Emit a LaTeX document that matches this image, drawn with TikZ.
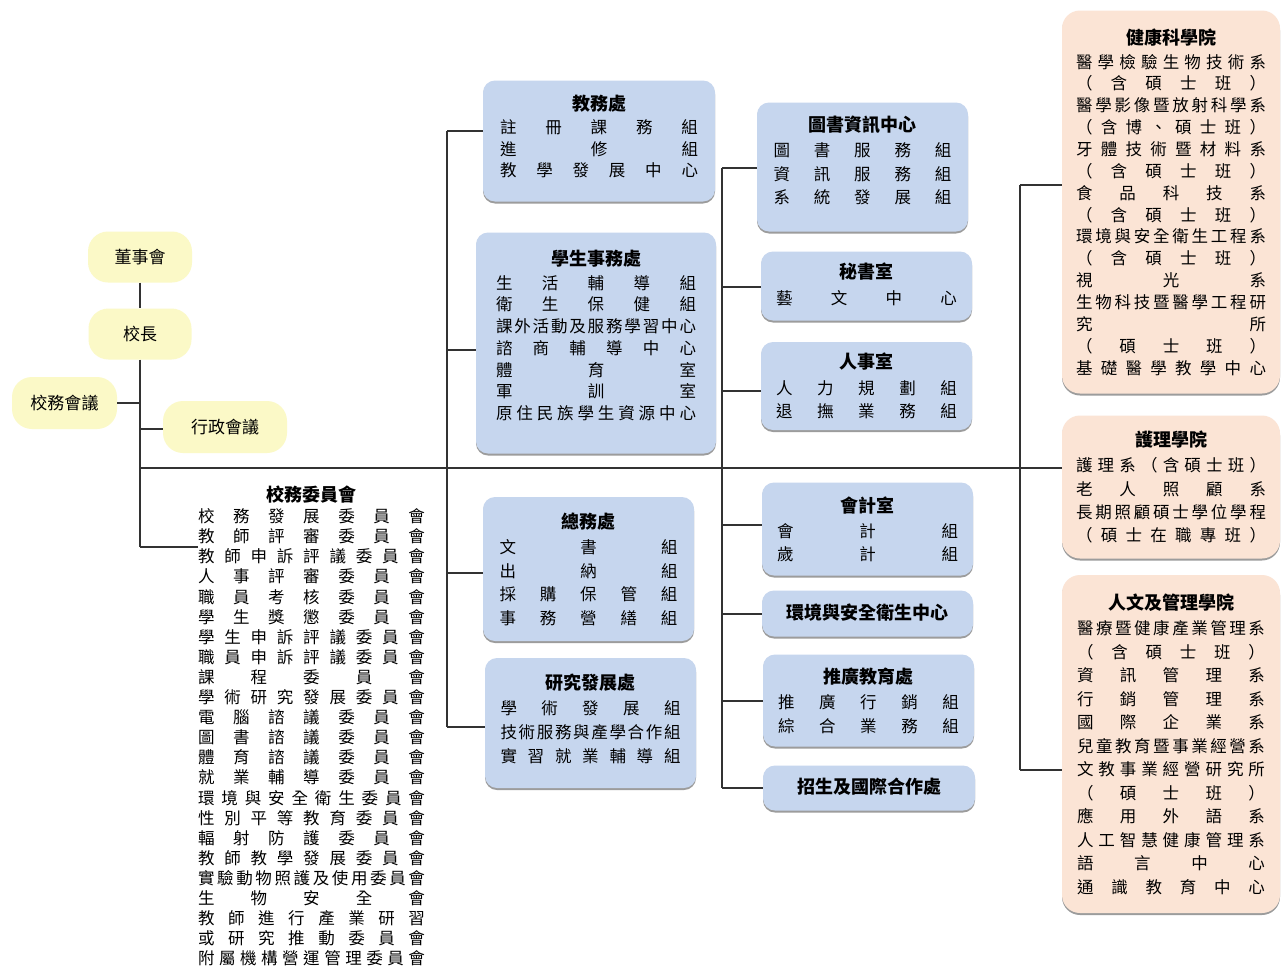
\documentclass[tikz,border=0pt]{standalone}
\usepackage{fontspec}
\setmainfont{Noto Sans CJK TC}
\usetikzlibrary{shadows}
\definecolor{boxblue}{RGB}{198,214,238}
\definecolor{boxpeach}{RGB}{251,228,213}
\definecolor{boxyellow}{RGB}{251,249,199}
\definecolor{linec}{RGB}{50,50,50}
\def\spA#1{#1\spB}
\def\spB#1{\ifx#1\relax\else\hfill#1\expandafter\spB\fi}
\newcommand\dl[1]{\hbox to\hsize{\spA#1\relax}}
\newcommand\ttl[1]{\hbox to\hsize{\hfil{\bfseries\fontsize{18}{18}\selectfont#1}\hfil}\vskip2pt}
\newcommand\bx[4]{\vbox{\hsize=#1pt\baselineskip=#2pt\lineskiplimit=-100pt\lineskip=0pt #4\vskip#3pt}}
\tikzset{
  conn/.style={draw=linec, line width=1.2pt},
  ybox/.style={fill=boxyellow, rounded corners=20pt, inner sep=0pt, font=\fontsize{17}{17}\selectfont},
  bbox/.style={fill=boxblue, rounded corners=12pt, inner sep=0pt, font=\fontsize{16.5}{20}\selectfont,
    drop shadow={shadow xshift=0pt, shadow yshift=-2pt, fill=black!55, opacity=0.7}},
  pbox/.style={fill=boxpeach, rounded corners=18pt, inner sep=0pt, font=\fontsize{16.5}{20}\selectfont,
    drop shadow={shadow xshift=0pt, shadow yshift=-2pt, fill=black!55, opacity=0.7}},
  tbox/.style={inner sep=0pt, font=\fontsize{16.5}{20}\selectfont}
}
\begin{document}
\begin{tikzpicture}[x=1pt,y=-1pt]
\fill[white] (0,0) rectangle (1282,969);
\useasboundingbox (0,0) rectangle (1282,969);

% yellow boxes
\node[ybox, minimum width=104pt, minimum height=51pt] (ds) at (140,257) {董事會};
\node[ybox, minimum width=103pt, minimum height=51pt] (xz) at (140,334) {校長};
\node[ybox, minimum width=105pt, minimum height=52pt] (xwh) at (64.5,403) {校務會議};
\node[ybox, minimum width=124pt, minimum height=52pt] (xzh) at (225,427) {行政會議};

% blue boxes
\node[bbox, minimum width=232pt, minimum height=121pt] (jw) at (599,141) {\bx{198}{21.5}{9}{\ttl{教務處}\dl{註冊課務組}\dl{進修組}\dl{教學發展中心}}};
\node[bbox, minimum width=240pt, minimum height=221pt] (xs) at (596,343) {\bx{200}{21.7}{15}{\ttl{學生事務處}\dl{生活輔導組}\dl{衛生保健組}\dl{課外活動及服務學習中心}\dl{諮商輔導中心}\dl{體育室}\dl{軍訓室}\dl{原住民族學生資源中心}}};
\node[bbox, minimum width=211pt, minimum height=144pt] (zw) at (588.5,569) {\bx{178}{23.5}{0}{\ttl{總務處}\dl{文書組}\dl{出納組}\dl{採購保管組}\dl{事務營繕組}}};
\node[bbox, minimum width=211pt, minimum height=130pt] (yf) at (590.5,723) {\bx{180}{23.7}{9}{\ttl{研究發展處}\dl{學術發展組}\dl{技術服務與產學合作組}\dl{實習就業輔導組}}};

\node[bbox, minimum width=211pt, minimum height=129pt] (ts) at (862.5,167) {\bx{178}{23.3}{13}{\ttl{圖書資訊中心}\dl{圖書服務組}\dl{資訊服務組}\dl{系統發展組}}};
\node[bbox, minimum width=211pt, minimum height=69pt] (ms) at (866.5,286) {\bx{181}{24}{3}{\ttl{秘書室}\dl{藝文中心}}};
\node[bbox, minimum width=211pt, minimum height=88pt] (rs) at (866.5,386) {\bx{181}{23.5}{0}{\ttl{人事室}\dl{人力規劃組}\dl{退撫業務組}}};
\node[bbox, minimum width=211pt, minimum height=93pt] (kj) at (867.5,529) {\bx{181}{23}{0}{\ttl{會計室}\dl{會計組}\dl{歲計組}}};
\node[bbox, minimum width=211pt, minimum height=46pt] (hj) at (867.5,613.5) {\bx{181}{23}{0}{\ttl{環境與安全衛生中心}}};
\node[bbox, minimum width=211pt, minimum height=92pt] (tg) at (868.5,700.5) {\bx{181}{23.5}{0}{\ttl{推廣教育處}\dl{推廣行銷組}\dl{綜合業務組}}};
\node[bbox, minimum width=212pt, minimum height=45pt] (zs) at (869,788) {\bx{181}{23}{0}{\ttl{招生及國際合作處}}};

% peach boxes
\node[pbox, minimum width=218pt, minimum height=383pt] (jk) at (1171,202) {\bx{190}{21.86}{0}{\ttl{健康科學院}\dl{醫學檢驗生物技術系}\dl{（含碩士班）}\dl{醫學影像暨放射科學系}\dl{（含博、碩士班）}\dl{牙體技術暨材料系}\dl{（含碩士班）}\dl{食品科技系}\dl{（含碩士班）}\dl{環境與安全衛生工程系}\dl{（含碩士班）}\dl{視光系}\dl{生物科技暨醫學工程研}\dl{究所}\dl{（碩士班）}\dl{基礎醫學教學中心}}};
\node[pbox, minimum width=218pt, minimum height=143pt] (hl) at (1171,487) {\bx{190}{23.3}{0}{\ttl{護理學院}\dl{護理系（含碩士班）}\dl{老人照顧系}\dl{長期照顧碩士學位學程}\dl{（碩士在職專班）}}};
\node[pbox, minimum width=218pt, minimum height=338pt] (rw) at (1171,744) {\bx{188}{23.5}{0}{\ttl{人文及管理學院}\dl{醫療暨健康產業管理系}\dl{（含碩士班）}\dl{資訊管理系}\dl{行銷管理系}\dl{國際企業系}\dl{兒童教育暨事業經營系}\dl{文教事業經營研究所}\dl{（碩士班）}\dl{應用外語系}\dl{人工智慧健康管理系}\dl{語言中心}\dl{通識教育中心}}};

% committee text
\node[tbox] (xw) at (311.5,726) {\bx{227}{20.1}{0}{\ttl{校務委員會}\vskip-1pt\dl{校務發展委員會}\dl{教師評審委員會}\dl{教師申訴評議委員會}\dl{人事評審委員會}\dl{職員考核委員會}\dl{學生獎懲委員會}\dl{學生申訴評議委員會}\dl{職員申訴評議委員會}\dl{課程委員會}\dl{學術研究發展委員會}\dl{電腦諮議委員會}\dl{圖書諮議委員會}\dl{體育諮議委員會}\dl{就業輔導委員會}\dl{環境與安全衛生委員會}\dl{性別平等教育委員會}\dl{輻射防護委員會}\dl{教師教學發展委員會}\dl{實驗動物照護及使用委員會}\dl{生物安全會}\dl{教師進行產業研習}\dl{或研究推動委員會}\dl{附屬機構營運管理委員會}}};

% coordinates
\coordinate (tA) at (140,547);
\coordinate (mainL) at (140,468);
\coordinate (a1) at (447,131);
\coordinate (a2) at (447,350);
\coordinate (a3) at (447,573);
\coordinate (a4) at (447,727);
\coordinate (b1) at (722,168);
\coordinate (b2) at (722,287);
\coordinate (b3) at (722,391);
\coordinate (b4) at (722,525);
\coordinate (b5) at (722,614);
\coordinate (b6) at (722,701);
\coordinate (b7) at (722,788);
\coordinate (c1) at (1020,185);
\coordinate (c3) at (1020,770);

% trunk
\draw[conn] (ds) -- (xz);
\draw[conn] (xz.south) -- (tA);
\draw[conn] (xwh.east |- 0,403) -- (140,403);
\draw[conn] (140,429) -- (xzh.west |- 0,429);
\draw[conn] (tA) -- (tA -| xw.west);
\draw[conn] (mainL) -- (mainL -| hl.west);

% bus A
\draw[conn] (a1) -- (a4);
\draw[conn] (a1) -- (a1 -| jw.west);
\draw[conn] (a2) -- (a2 -| xs.west);
\draw[conn] (a3) -- (a3 -| zw.west);
\draw[conn] (a4) -- (a4 -| yf.west);

% bus B
\draw[conn] (b1) -- (b7);
\draw[conn] (b1) -- (b1 -| ts.west);
\draw[conn] (b2) -- (b2 -| ms.west);
\draw[conn] (b3) -- (b3 -| rs.west);
\draw[conn] (b4) -- (b4 -| kj.west);
\draw[conn] (b5) -- (b5 -| hj.west);
\draw[conn] (b6) -- (b6 -| tg.west);
\draw[conn] (b7) -- (b7 -| zs.west);

% bus C
\draw[conn] (c1) -- (c3);
\draw[conn] (c1) -- (c1 -| jk.west);
\draw[conn] (c3) -- (c3 -| rw.west);
\end{tikzpicture}
\end{document}
